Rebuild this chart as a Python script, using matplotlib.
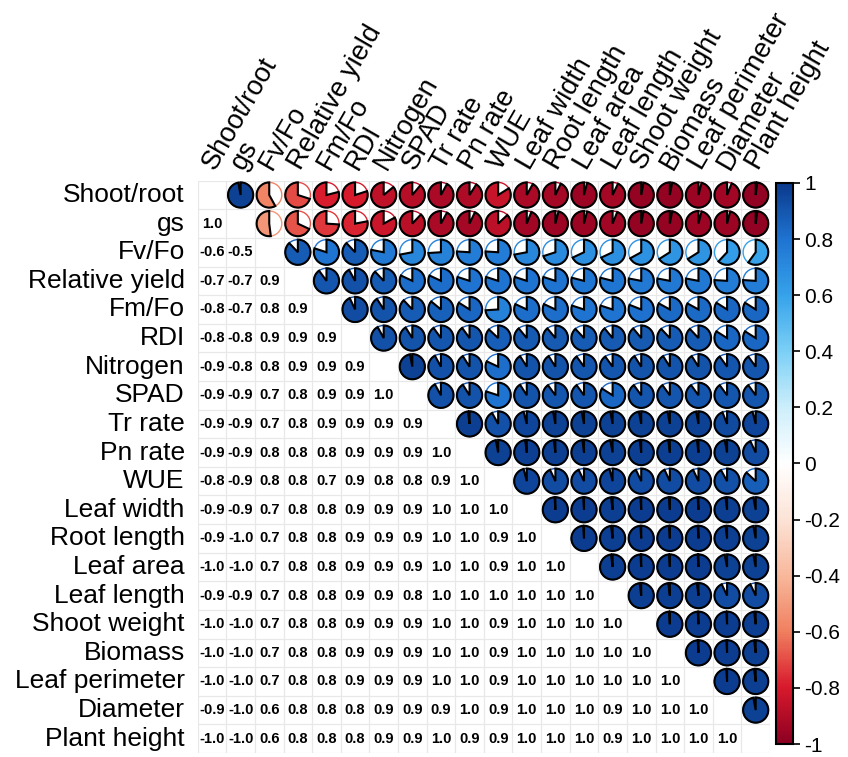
import numpy as np
import matplotlib as mpl
import matplotlib.pyplot as plt
from matplotlib.patches import Wedge, Circle
from matplotlib.colors import LinearSegmentedColormap, Normalize

plt.rcParams['font.family'] = ['Liberation Sans', 'DejaVu Sans']

labels = ['Shoot/root', 'gs', 'Fv/Fo', 'Relative yield', 'Fm/Fo', 'RDI',
          'Nitrogen', 'SPAD', 'Tr rate', 'Pn rate', 'WUE', 'Leaf width',
          'Root length', 'Leaf area', 'Leaf length', 'Shoot weight',
          'Biomass', 'Leaf perimeter', 'Diameter', 'Plant height']

# correlations above the diagonal, row i holds columns i+1 .. n-1
r_shoot_root = [0.97, -0.58, -0.70, -0.79, -0.80, -0.86, -0.89, -0.92, -0.91, -0.84,
                -0.92, -0.93, -0.96, -0.93, -0.97, -0.97, -0.96, -0.94, -0.98]
r_gs = [-0.52, -0.68, -0.74, -0.78, -0.83, -0.88, -0.92, -0.93, -0.87,
        -0.94, -0.96, -0.96, -0.94, -0.97, -0.97, -0.96, -0.96, -0.98]
r_fvfo = [0.88, 0.80, 0.88, 0.78, 0.72, 0.74, 0.76, 0.76, 0.72,
          0.70, 0.68, 0.68, 0.67, 0.66, 0.66, 0.62, 0.60]
r_rel_yield = [0.90, 0.92, 0.88, 0.82, 0.82, 0.80, 0.80, 0.80,
               0.80, 0.79, 0.79, 0.78, 0.78, 0.78, 0.76, 0.76]
r_fmfo = [0.93, 0.91, 0.88, 0.86, 0.84, 0.74, 0.82, 0.82,
          0.80, 0.80, 0.81, 0.83, 0.83, 0.84, 0.84]
r_rdi = [0.92, 0.91, 0.90, 0.90, 0.87, 0.89, 0.89, 0.88,
         0.89, 0.89, 0.88, 0.88, 0.84, 0.84]
r_nitrogen = [0.97, 0.92, 0.91, 0.82, 0.91, 0.91, 0.90, 0.90,
              0.91, 0.91, 0.91, 0.90, 0.90]
r_spad = [0.92, 0.91, 0.80, 0.91, 0.90, 0.90, 0.84, 0.90, 0.90, 0.90, 0.90, 0.90]
r_tr = [0.98, 0.92, 0.96, 0.97, 0.97, 0.97, 0.97, 0.97, 0.97, 0.94, 0.96]
r_pn = [0.97, 0.98, 0.98, 0.98, 0.97, 0.98, 0.98, 0.98, 0.97, 0.93]
r_wue = [0.96, 0.93, 0.93, 0.96, 0.93, 0.93, 0.93, 0.92, 0.87]
r_leaf_width = [0.99, 0.99, 0.98, 0.99, 0.99, 0.99, 0.98, 0.97]
r_root_length = [0.99, 0.98, 0.99, 0.99, 0.99, 0.98, 0.97]
r_leaf_area = [0.98, 0.99, 0.99, 0.99, 0.97, 0.97]
r_leaf_length = [0.98, 0.98, 0.98, 0.93, 0.93]
r_shoot_weight = [0.99, 0.99, 0.99, 0.98]
r_biomass = [0.99, 0.99, 0.98]
r_leaf_perim = [0.99, 0.98]
r_diameter = [0.97]

upper_rows = [r_shoot_root, r_gs, r_fvfo, r_rel_yield, r_fmfo, r_rdi, r_nitrogen,
              r_spad, r_tr, r_pn, r_wue, r_leaf_width, r_root_length, r_leaf_area,
              r_leaf_length, r_shoot_weight, r_biomass, r_leaf_perim, r_diameter]

n = len(labels)
corr = np.eye(n)
for i, row in enumerate(upper_rows):
    for k, v in enumerate(row):
        j = i + 1 + k
        corr[i, j] = v
        corr[j, i] = v

cmap = LinearSegmentedColormap.from_list('corr', [
    '#8C0021', '#D8192C', '#F0805F', '#F8B89C', '#FCE3D6', '#FFFFFF',
    '#CDEEFB', '#7CD0F6', '#36A3EA', '#1F74D2', '#0A3A8C'])
norm = Normalize(-1, 1)

W, H = 848, 757
fig = plt.figure(figsize=(W / 100, H / 100), dpi=100)
x0, y0, side = 197.7, 4.0, 572.3
ax = fig.add_axes([x0 / W, y0 / H, side / W, side / H])
ax.set_xlim(-0.5, n - 0.5)
ax.set_ylim(-0.5, n - 0.5)
ax.axis('off')

# light cell grid
for k in range(n + 1):
    ax.plot([k - 0.5, k - 0.5], [-0.5, n - 0.5], color='#E8E8E8', lw=0.9, zorder=0)
    ax.plot([-0.5, n - 0.5], [k - 0.5, k - 0.5], color='#E8E8E8', lw=0.9, zorder=0)

R = 0.44
for i in range(n):
    y = n - 1 - i
    for j in range(n):
        v = corr[i, j]
        if j > i:
            c = cmap(norm(v))
            ax.add_patch(Circle((j, y), R, fill=False, ec=c, lw=1.0, zorder=2))
            if v >= 0:
                t1, t2 = 90 - 360 * v, 90
            else:
                t1, t2 = 90, 90 - 360 * v
            ax.add_patch(Wedge((j, y), R, t1, t2, fc=c, ec='black', lw=1.5, zorder=3))
        elif j < i:
            ax.text(j, y, f'{v:.1f}', ha='center', va='center',
                    fontsize=10.5, fontweight='bold', color='black')

# variable names
for i, name in enumerate(labels):
    ax.text(-0.95, n - 1 - i, name, ha='right', va='center', fontsize=19, clip_on=False)
    ax.text(i + 0.1, n - 0.5 + 0.35, name, ha='left', va='baseline', rotation=60,
            rotation_mode='anchor', fontsize=19.5, clip_on=False)

# colour legend
cax = fig.add_axes([776 / W, 13 / H, 17 / W, 561 / H])
ticks = np.linspace(-1, 1, 11)
cb = fig.colorbar(mpl.cm.ScalarMappable(norm=norm, cmap=cmap), cax=cax, ticks=ticks)
cb.set_ticklabels(['0' if abs(t) < 1e-9 else f'{t:g}' for t in np.round(ticks, 1)])
cb.outline.set_linewidth(1.5)
cax.tick_params(labelsize=15, length=5, width=1.2, direction='out', pad=3)

fig.savefig('out.png', dpi=100)
